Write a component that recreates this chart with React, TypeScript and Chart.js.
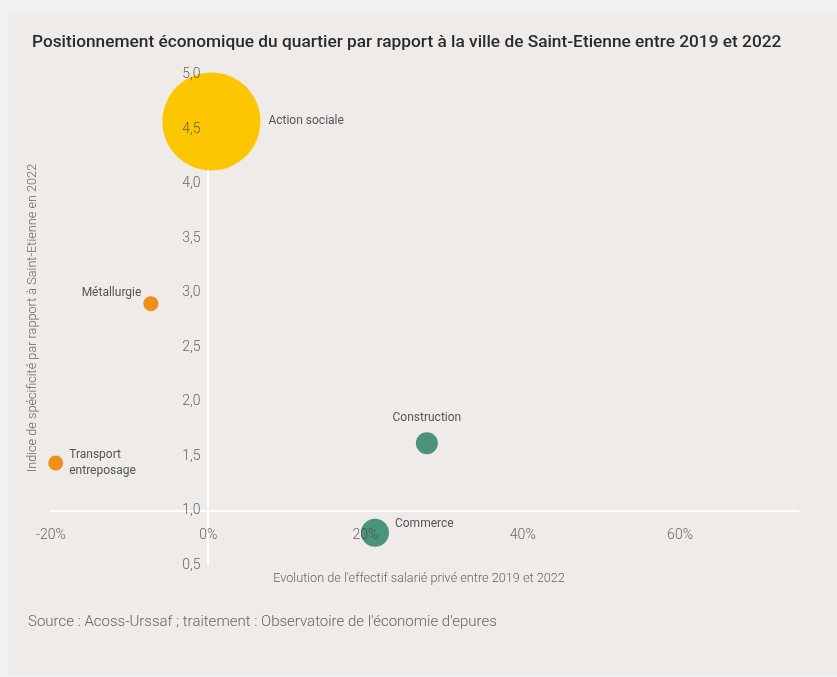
import React, { useEffect, useRef } from 'react';
import { Chart, registerables } from 'chart.js';

Chart.register(...registerables);

// ---- Data ----
const sectors = ['Action sociale', 'Métallurgie', 'Transport entreposage', 'Construction', 'Commerce'];
const evolutionPct = [0.4, -7.3, -19.4, 27.8, 21.2];
const specificityIndex = [4.57, 2.9, 1.44, 1.62, 0.8];
const bubbleSize = [49, 7.5, 7.5, 11, 14];
const labelSide = ['right', 'upperLeft', 'right', 'above', 'upperRight'];
const xTickValues = [-20, 0, 20, 40, 60];
const yTickValues = [0.5, 1, 1.5, 2, 2.5, 3, 3.5, 4, 4.5, 5];

const TITLE = 'Positionnement économique du quartier par rapport à la ville de Saint-Etienne entre 2019 et 2022';
const X_TITLE = "Evolution de l'effectif salarié privé entre 2019 et 2022";
const Y_TITLE = 'Indice de spécificité par rapport à Saint-Etienne en 2022';
const SOURCE = "Source : Acoss-Urssaf ; traitement : Observatoire de l'économie d'epures";

const COLORS = ['#FCC700', '#EF901C', '#EF901C', '#4B937A', '#4B937A'];
const FONT = 'Roboto, "Noto Sans", sans-serif';

const textPlugin = {
  id: 'panelText',
  afterDatasetsDraw(chart: any) {
    const ctx = chart.ctx;
    const meta = chart.getDatasetMeta(0);
    ctx.save();
    ctx.fillStyle = '#555555';
    ctx.font = `400 12px ${FONT}`;
    meta.data.forEach((el: any, i: number) => {
      const r = el.options.radius;
      const cx = el.x;
      const cy = el.y;
      const side = labelSide[i];
      const words = sectors[i] === 'Transport entreposage' ? ['Transport', 'entreposage'] : [sectors[i]];
      ctx.textBaseline = 'middle';
      let x = cx;
      let y = cy;
      if (side === 'right') {
        ctx.textAlign = 'left';
        x = cx + r + (r > 20 ? 8 : 6);
      } else if (side === 'upperLeft') {
        ctx.textAlign = 'right';
        x = cx - r - 2;
        y = cy - 11;
      } else if (side === 'above') {
        ctx.textAlign = 'center';
        y = cy - r - 14;
      } else if (side === 'upperRight') {
        ctx.textAlign = 'left';
        x = cx + r + 6;
        y = cy - 9;
      }
      const lh = 16;
      const start = y - ((words.length - 1) * lh) / 2;
      words.forEach((w, k) => ctx.fillText(w, x, start + k * lh));
    });
    ctx.restore();
  },
  afterDraw(chart: any) {
    const ctx = chart.ctx;
    ctx.save();
    ctx.textBaseline = 'middle';
    ctx.textAlign = 'left';
    ctx.fillStyle = '#2b2b2b';
    ctx.font = `500 17.3px ${FONT}`;
    ctx.fillText(TITLE, 24, 31);

    ctx.fillStyle = '#666666';
    ctx.font = `300 15px ${FONT}`;
    ctx.fillText(SOURCE, 20, 610);

    ctx.font = `300 12.7px ${FONT}`;
    ctx.textAlign = 'center';
    ctx.fillText(X_TITLE, 411, 567);

    ctx.translate(25, 306);
    ctx.rotate(-Math.PI / 2);
    ctx.fillText(Y_TITLE, 0, 0);
    ctx.restore();
  },
};

export default function App() {
  const ref = useRef<HTMLCanvasElement>(null);

  useEffect(() => {
    document.body.style.margin = '0';
    document.body.style.background = '#f4f2f1';
    const canvas = ref.current;
    if (!canvas) return;
    const chart = new Chart(canvas, {
      type: 'bubble',
      data: {
        datasets: [
          {
            label: 'Secteurs',
            data: sectors.map((_, i) => ({ x: evolutionPct[i], y: specificityIndex[i], r: bubbleSize[i] })),
            backgroundColor: COLORS,
            borderWidth: 0,
            clip: false as any,
          },
        ],
      },
      options: {
        responsive: false,
        animation: false,
        events: [],
        layout: { autoPadding: false, padding: { left: 43, right: 39, top: 62.5, bottom: 109.5 } },
        plugins: {
          legend: { display: false },
          tooltip: { enabled: false },
          title: { display: false },
        },
        scales: {
          x: {
            type: 'linear',
            min: -20,
            max: 75,
            position: { y: 1 } as any,
            afterBuildTicks: (scale: any) => {
              scale.ticks = xTickValues.map((v) => ({ value: v }));
            },
            grid: {
              display: true,
              drawTicks: false,
              lineWidth: 2,
              color: (c: any) => (c.tick && c.tick.value === 0 ? '#ffffff' : 'rgba(0,0,0,0)'),
            },
            border: { display: true, color: '#ffffff', width: 2 },
            ticks: {
              z: 1,
              padding: 16,
              color: 'rgba(70,70,70,0.8)',
              font: { family: FONT, size: 14, weight: '300' as any },
              maxRotation: 0,
              callback: (v: any) => `${v}%`,
            },
          },
          y: {
            type: 'linear',
            min: 0.5,
            max: 5,
            position: { x: -1 } as any,
            afterBuildTicks: (scale: any) => {
              scale.ticks = yTickValues.map((v) => ({ value: v }));
            },
            grid: { display: false, drawTicks: false },
            border: { display: false },
            ticks: {
              z: 1,
              padding: 8,
              color: 'rgba(70,70,70,0.8)',
              font: { family: FONT, size: 14, weight: '300' as any },
              callback: (v: any) => Number(v).toFixed(1).replace('.', ','),
            },
          },
        },
      },
      plugins: [textPlugin],
    });
    return () => chart.destroy();
  }, []);

  return (
    <div style={{ width: 837, height: 677, background: '#f4f2f1', position: 'relative' }}>
      <div style={{ position: 'absolute', left: 8, top: 12, width: 829, height: 663, background: '#eeebe9' }}>
        <canvas ref={ref} width={829} height={663} style={{ display: 'block', width: 829, height: 663 }} />
      </div>
    </div>
  );
}
